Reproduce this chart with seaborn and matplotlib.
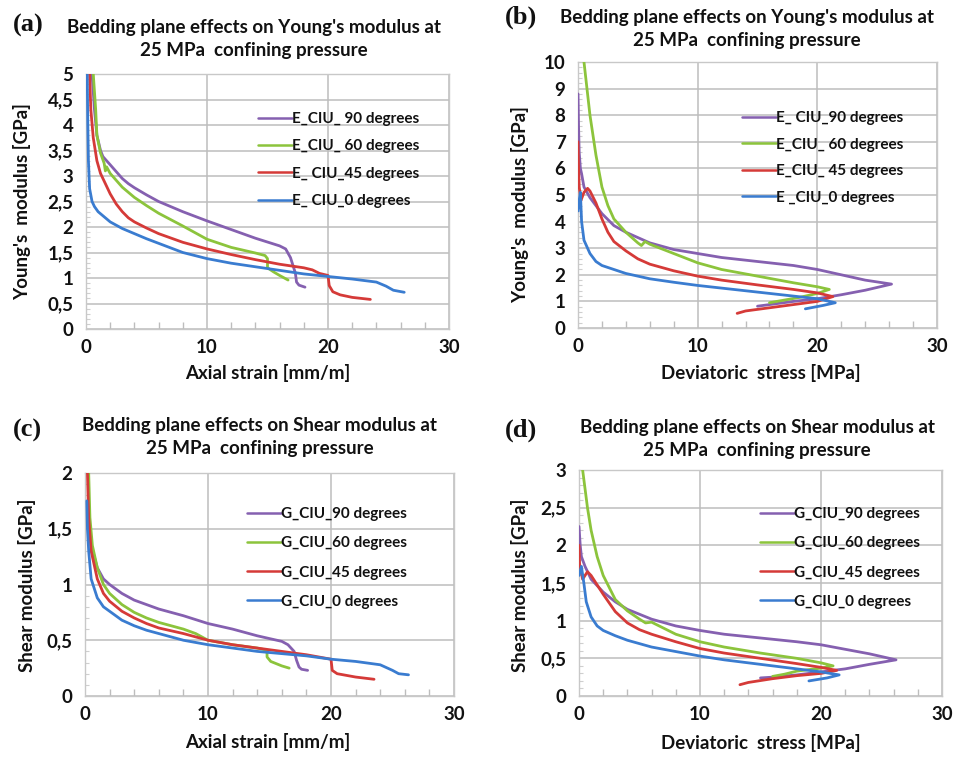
import matplotlib
matplotlib.use("Agg")
import matplotlib.pyplot as plt
import seaborn as sns
from matplotlib.ticker import MultipleLocator, FuncFormatter

# ---------------- data ----------------
# (a) Young's modulus vs axial strain
a90_x = [0.5, 0.7, 0.9, 1.2, 1.4, 2.0, 3.0, 3.5, 4.0, 5.0, 6.0, 8.0, 10.0, 12.0, 14.0, 16.0, 16.5, 16.9, 17.1, 17.3, 17.4, 17.6, 18.1]
a90_y = [5.0, 4.3, 3.8, 3.5, 3.38, 3.22, 2.95, 2.85, 2.77, 2.63, 2.5, 2.3, 2.12, 1.95, 1.78, 1.63, 1.57, 1.4, 1.25, 1.1, 0.92, 0.86, 0.82]
a60_x = [0.6, 0.8, 0.9, 1.2, 1.5, 1.6, 1.7, 2.0, 3.0, 4.0, 5.0, 6.0, 8.0, 10.0, 12.0, 14.0, 14.8, 15.0, 15.0, 15.5, 16.0, 16.7]
a60_y = [5.0, 4.3, 3.8, 3.45, 3.25, 3.1, 3.18, 3.05, 2.78, 2.58, 2.42, 2.27, 2.02, 1.76, 1.6, 1.49, 1.44, 1.38, 1.2, 1.12, 1.05, 0.96]
a45_x = [0.3, 0.4, 0.6, 0.9, 1.2, 1.5, 2.0, 2.5, 3.0, 3.5, 4.0, 5.0, 6.0, 8.0, 10.0, 12.0, 14.0, 16.0, 18.0, 18.7, 19.3, 20.0, 20.1, 20.4, 21.0, 22.0, 23.5]
a45_y = [5.0, 4.3, 3.75, 3.3, 3.05, 2.9, 2.65, 2.45, 2.3, 2.18, 2.1, 1.98, 1.87, 1.7, 1.57, 1.46, 1.36, 1.27, 1.2, 1.16, 1.09, 1.05, 0.85, 0.73, 0.67, 0.62, 0.58]
a0_x = [0.1, 0.15, 0.2, 0.3, 0.5, 0.7, 1.0, 1.5, 2.0, 3.0, 4.0, 5.0, 6.0, 8.0, 10.0, 12.0, 14.0, 16.0, 18.0, 20.0, 22.0, 24.0, 24.8, 25.4, 26.3]
a0_y = [5.0, 4.0, 3.3, 2.75, 2.5, 2.4, 2.3, 2.2, 2.1, 1.97, 1.87, 1.77, 1.68, 1.5, 1.38, 1.29, 1.22, 1.15, 1.08, 1.03, 0.98, 0.92, 0.84, 0.76, 0.72]

# (b) Young's modulus vs deviatoric stress
b90_x = [0.0, 0.05, 0.1, 0.2, 0.3, 0.5, 1.0, 2.0, 3.0, 4.0, 6.0, 8.0, 10.0, 12.0, 15.0, 18.0, 20.0, 22.0, 24.0, 26.2, 24.0, 22.0, 20.0, 18.0, 16.0, 15.0]
b90_y = [8.8, 7.5, 6.6, 6.0, 5.8, 5.3, 4.9, 4.3, 3.85, 3.6, 3.2, 2.95, 2.8, 2.65, 2.5, 2.35, 2.2, 2.0, 1.8, 1.65, 1.42, 1.25, 1.1, 1.0, 0.88, 0.82]
b60_x = [0.5, 1.0, 1.5, 2.0, 2.5, 3.0, 4.0, 5.0, 5.3, 5.6, 6.0, 8.0, 10.0, 12.0, 15.0, 18.0, 20.0, 21.0, 20.0, 18.5, 17.0, 16.0]
b60_y = [10.0, 8.0, 6.5, 5.3, 4.6, 4.1, 3.6, 3.2, 3.1, 3.25, 3.15, 2.8, 2.45, 2.2, 1.95, 1.7, 1.55, 1.45, 1.3, 1.15, 1.03, 0.95]
b45_x = [0.0, 0.05, 0.1, 0.25, 0.5, 0.8, 1.0, 1.5, 2.0, 2.5, 3.0, 4.0, 5.0, 6.0, 8.0, 10.0, 12.0, 15.0, 18.0, 20.0, 21.3, 20.0, 18.0, 16.0, 14.0, 13.3]
b45_y = [7.0, 6.0, 5.3, 4.8, 5.1, 5.25, 5.15, 4.7, 4.1, 3.6, 3.25, 2.9, 2.6, 2.4, 2.15, 1.95, 1.8, 1.62, 1.45, 1.32, 1.18, 1.0, 0.88, 0.76, 0.64, 0.55]
b0_x = [0.0, 0.1, 0.2, 0.3, 0.5, 1.0, 1.5, 2.0, 3.0, 4.0, 6.0, 8.0, 10.0, 12.0, 15.0, 18.0, 20.0, 21.5, 20.5, 19.0]
b0_y = [4.4, 4.8, 5.1, 4.0, 3.3, 2.8, 2.5, 2.35, 2.2, 2.05, 1.85, 1.72, 1.6, 1.5, 1.35, 1.2, 1.1, 0.95, 0.85, 0.72]

# (c) Shear modulus vs axial strain
c90_x = [0.3, 0.5, 1.0, 1.5, 2.0, 3.0, 4.0, 5.0, 6.0, 8.0, 10.0, 12.0, 14.0, 16.0, 16.5, 17.0, 17.2, 17.4, 17.6, 18.1]
c90_y = [1.6, 1.35, 1.15, 1.05, 1.0, 0.92, 0.86, 0.82, 0.78, 0.72, 0.65, 0.6, 0.54, 0.49, 0.46, 0.4, 0.32, 0.26, 0.24, 0.23]
c60_x = [0.3, 0.4, 0.6, 1.0, 1.5, 2.0, 3.0, 4.0, 5.0, 6.0, 8.0, 9.0, 10.0, 12.0, 14.0, 14.8, 14.8, 15.1, 16.0, 16.6]
c60_y = [2.0, 1.6, 1.35, 1.15, 1.0, 0.92, 0.82, 0.75, 0.7, 0.66, 0.6, 0.56, 0.5, 0.46, 0.43, 0.41, 0.35, 0.31, 0.27, 0.25]
c45_x = [0.2, 0.3, 0.5, 1.0, 1.5, 2.0, 3.0, 4.0, 5.0, 6.0, 8.0, 10.0, 12.0, 14.0, 16.0, 18.0, 20.0, 20.1, 20.5, 22.0, 23.5]
c45_y = [2.0, 1.6, 1.3, 1.05, 0.92, 0.85, 0.76, 0.7, 0.65, 0.61, 0.56, 0.5, 0.46, 0.43, 0.4, 0.37, 0.33, 0.23, 0.2, 0.17, 0.15]
c0_x = [0.15, 0.2, 0.3, 0.5, 1.0, 1.5, 2.0, 3.0, 4.0, 5.0, 6.0, 8.0, 10.0, 12.0, 14.0, 16.0, 18.0, 20.0, 22.0, 24.0, 25.0, 25.5, 26.3]
c0_y = [1.75, 1.5, 1.3, 1.05, 0.88, 0.8, 0.76, 0.68, 0.63, 0.59, 0.56, 0.5, 0.46, 0.43, 0.4, 0.38, 0.36, 0.33, 0.31, 0.28, 0.23, 0.2, 0.19]

# (d) Shear modulus vs deviatoric stress
d90_x = [0.0, 0.1, 0.2, 0.5, 1.0, 2.0, 3.0, 4.0, 6.0, 8.0, 10.0, 12.0, 15.0, 18.0, 20.0, 22.0, 24.0, 26.2, 24.0, 22.0, 20.0, 18.0, 16.0, 15.0]
d90_y = [2.25, 2.0, 1.85, 1.72, 1.55, 1.38, 1.25, 1.15, 1.02, 0.93, 0.87, 0.82, 0.77, 0.72, 0.68, 0.62, 0.56, 0.48, 0.42, 0.36, 0.32, 0.28, 0.25, 0.24]
d60_x = [0.3, 0.7, 1.0, 1.5, 2.0, 3.0, 4.0, 5.0, 5.5, 6.0, 8.0, 10.0, 12.0, 15.0, 18.0, 20.0, 21.0, 20.0, 18.0, 17.0, 16.0]
d60_y = [3.0, 2.5, 2.2, 1.85, 1.6, 1.28, 1.13, 1.02, 0.97, 0.98, 0.82, 0.72, 0.65, 0.57, 0.5, 0.44, 0.4, 0.37, 0.33, 0.29, 0.26]
d45_x = [0.0, 0.05, 0.3, 0.7, 1.0, 2.0, 3.0, 4.0, 5.0, 6.0, 8.0, 10.0, 12.0, 15.0, 18.0, 20.0, 21.3, 20.0, 18.0, 16.0, 14.0, 13.3]
d45_y = [2.0, 1.75, 1.55, 1.65, 1.6, 1.35, 1.12, 0.97, 0.88, 0.82, 0.72, 0.63, 0.57, 0.5, 0.43, 0.38, 0.34, 0.3, 0.27, 0.23, 0.18, 0.15]
d0_x = [0.0, 0.2, 0.4, 0.6, 1.0, 1.5, 2.0, 3.0, 4.0, 6.0, 8.0, 10.0, 12.0, 15.0, 18.0, 20.0, 21.5, 20.5, 19.0]
d0_y = [1.6, 1.72, 1.5, 1.25, 1.05, 0.93, 0.87, 0.8, 0.74, 0.65, 0.59, 0.53, 0.48, 0.42, 0.36, 0.32, 0.28, 0.24, 0.2]

labels_a = ["E_CIU_ 90 degrees", "E_CIU_ 60 degrees", "E_ CIU_45 degrees", "E_ CIU_0 degrees"]
labels_b = ["E_ CIU_90 degrees", "E_CIU_ 60 degrees", "E_CIU_ 45 degrees", "E _CIU_0 degrees"]
labels_c = ["G_CIU_90 degrees", "G_CIU_60 degrees", "G_CIU_45 degrees", "G_CIU_0 degrees"]
labels_d = ["G_CIU_90 degrees", "G_CIU_60 degrees", "G_CIU_45 degrees", "G_CIU_0 degrees"]

title_young = "Bedding plane effects on Young's modulus at\n25 MPa  confining pressure"
title_shear = "Bedding plane effects on Shear modulus at\n25 MPa  confining pressure"

# ---------------- style ----------------
sns.set_theme(style="white")
plt.rcParams['font.family'] = ['Lato', 'DejaVu Sans']
plt.rcParams['font.weight'] = 'bold'
plt.rcParams['axes.labelweight'] = 'bold'

COLS = ['#8560B0', '#8CC43C', '#D53A38', '#3A7CD0']
TXT = '#111111'
W, H = 967, 758
fig = plt.figure(figsize=(W / 100, H / 100), dpi=100)


def rect(l, r, t, b):
    return [l / W, 1 - b / H, (r - l) / W, (b - t) / H]


def comma(v, pos):
    s = f"{v:g}"
    return s.replace('.', ',')


def panel(r, series, labels, ymax, ymaj, ymin_minor, xlabel, ylabel,
          xl_pos, yl_pos, leg_xy, leg_sp):
    ax = fig.add_axes(r)
    for (xs, ys), lab, c in zip(series, labels, COLS):
        sns.lineplot(x=xs, y=ys, sort=False, estimator=None, color=c, lw=2.0,
                     label=lab, ax=ax)
    ax.set_xlim(0, 30)
    ax.set_ylim(0, ymax)
    ax.xaxis.set_major_locator(MultipleLocator(10))
    ax.xaxis.set_minor_locator(MultipleLocator(2))
    ax.yaxis.set_major_locator(MultipleLocator(ymaj))
    ax.yaxis.set_minor_locator(MultipleLocator(ymin_minor))
    ax.yaxis.set_major_formatter(FuncFormatter(comma))
    ax.grid(True, which='major', color='#BDBDBD', lw=1.1)
    ax.tick_params(which='major', length=0, labelsize=13.5, labelcolor=TXT)
    ax.tick_params(axis='y', which='major', pad=9)
    ax.tick_params(axis='x', which='major', pad=7)
    ax.tick_params(axis='x', which='minor', direction='in', length=5, color='#BDBDBD', width=1)
    ax.tick_params(axis='y', which='minor', direction='in', length=3, color='#CFCFCF', width=0.8)
    ax.tick_params(which='minor', bottom=True, left=True)
    for s in ax.spines.values():
        s.set_color('#C8C8C8')
        s.set_linewidth(1.0)
        s.set_zorder(1)
    ax.set_xlabel(xlabel, fontsize=13.5, fontweight='bold', color=TXT)
    ax.set_ylabel(ylabel, fontsize=13.5, fontweight='bold', color=TXT)
    ax.xaxis.set_label_coords(xl_pos[0] / W, 1 - xl_pos[1] / H, transform=fig.transFigure)
    ax.yaxis.set_label_coords(yl_pos[0] / W, 1 - yl_pos[1] / H, transform=fig.transFigure)
    ax.xaxis.label.set(va='center', ha='center')
    ax.yaxis.label.set(va='center', ha='center')
    lg = ax.legend(loc='upper left', bbox_to_anchor=(leg_xy[0] / W, 1 - leg_xy[1] / H),
                   bbox_transform=fig.transFigure, frameon=False, fontsize=11,
                   handlelength=2.2, handletextpad=0.05, borderpad=0, borderaxespad=0,
                   labelspacing=leg_sp)
    for t in lg.get_texts():
        t.set_color(TXT)
    for h in lg.get_lines():
        h.set_linewidth(1.8)
    for t in ax.get_xticklabels() + ax.get_yticklabels():
        t.set_fontweight('bold')
    return ax


panel(rect(86, 449, 74, 329), [(a90_x, a90_y), (a60_x, a60_y), (a45_x, a45_y), (a0_x, a0_y)],
      labels_a, 5, 0.5, 0.1, "Axial strain [mm/m]", "Young's  modulus [GPa]",
      (268, 373), (22, 202), (258, 112), 0.87)
panel(rect(578, 937, 62, 328), [(b90_x, b90_y), (b60_x, b60_y), (b45_x, b45_y), (b0_x, b0_y)],
      labels_b, 10, 1, 0.2, "Deviatoric  stress [MPa]", "Young's  modulus [GPa]",
      (761, 373), (520, 205), (742, 111), 0.82)
panel(rect(85, 454, 473, 696), [(c90_x, c90_y), (c60_x, c60_y), (c45_x, c45_y), (c0_x, c0_y)],
      labels_c, 2, 0.5, 0.1, "Axial strain [mm/m]", "Shear modulus [GPa]",
      (268, 742), (27, 585), (247, 507), 1.0)
panel(rect(579, 942, 470, 696), [(d90_x, d90_y), (d60_x, d60_y), (d45_x, d45_y), (d0_x, d0_y)],
      labels_d, 3, 0.5, 0.1, "Deviatoric  stress [MPa]", "Shear modulus [GPa]",
      (761, 743), (520, 585), (760, 507), 1.0)

# titles and panel letters
for (cx, cy, txt) in [(254, 39, title_young), (747, 29, title_young),
                      (260, 437, title_shear), (757, 439, title_shear)]:
    fig.text(cx / W, 1 - cy / H, txt, ha='center', va='center', fontsize=13.5,
             fontweight='bold', linespacing=1.4, color=TXT)
for (x, y, t) in [(13, 25, '(a)'), (505, 17, '(b)'), (13, 430, '(c)'), (505, 430, '(d)')]:
    fig.text(x / W, 1 - y / H, t, ha='left', va='center', fontsize=19,
             fontweight='bold', family='Liberation Serif', color=TXT)

fig.savefig('out.png', dpi=100)
